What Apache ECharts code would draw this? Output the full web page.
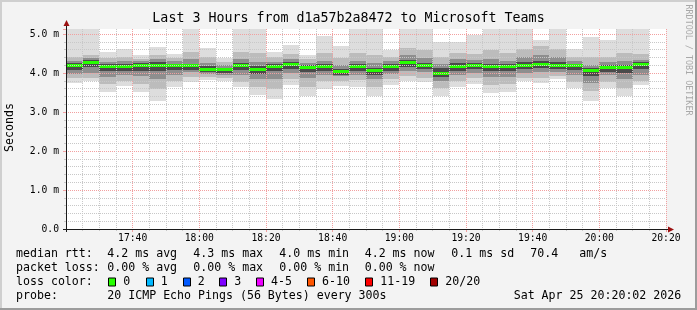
<!DOCTYPE html>
<html><head><meta charset="utf-8">
<script src="https://cdn.jsdelivr.net/npm/echarts@6/dist/echarts.min.js"></script>
<style>html,body{margin:0;padding:0;background:#f3f3f3}#c{width:697px;height:310px}</style>
</head><body><div id="c"></div>
<script>
// ---------- data ----------
const chartTitle = 'Last 3 Hours from d1a57b2a8472 to Microsoft Teams';
const slotStart = ['17:20','17:25','17:30','17:35','17:40','17:45','17:50','17:55',
  '18:00','18:05','18:10','18:15','18:20','18:25','18:30','18:35','18:40','18:45','18:50','18:55',
  '19:00','19:05','19:10','19:15','19:20','19:25','19:30','19:35','19:40','19:45','19:50','19:55',
  '20:00','20:05','20:10'];
const slotMinutes = 5;
const axisStart = '17:20', axisEnd = '20:20';
// RTT values in ms, per 5-minute slot
const maxRtt = [5.2,5.2,4.55,4.62,4.46,4.67,4.49,5.2,4.65,4.38,5.2,5.2,4.55,4.73,4.46,4.95,4.68,5.2,5.2,4.59,5.2,5.2,4.80,4.80,4.97,5.2,5.2,5.2,4.84,5.2,4.61,4.92,4.85,5.2,5.2];
const p90 = [4.40,4.46,4.38,4.42,4.37,4.45,4.38,4.55,4.40,4.28,4.55,4.50,4.40,4.48,4.35,4.50,4.38,4.50,4.45,4.42,4.65,4.58,4.40,4.52,4.48,4.58,4.50,4.62,4.70,4.62,4.40,4.40,4.42,4.52,4.48];
const p75 = [4.32,4.38,4.29,4.30,4.30,4.35,4.30,4.35,4.26,4.20,4.35,4.28,4.28,4.35,4.26,4.32,4.20,4.32,4.25,4.32,4.45,4.38,4.22,4.36,4.34,4.35,4.30,4.40,4.45,4.40,4.30,4.20,4.28,4.30,4.34];
const p60 = [4.26,4.33,4.23,4.24,4.25,4.27,4.24,4.24,4.18,4.14,4.26,4.17,4.22,4.28,4.20,4.24,4.10,4.24,4.14,4.24,4.34,4.26,4.12,4.26,4.26,4.24,4.22,4.28,4.32,4.27,4.24,4.12,4.20,4.20,4.28];
const medianRtt = [4.19,4.27,4.16,4.16,4.18,4.18,4.18,4.18,4.10,4.08,4.18,4.10,4.16,4.22,4.14,4.16,4.04,4.16,4.06,4.16,4.27,4.19,3.99,4.16,4.18,4.16,4.16,4.19,4.22,4.19,4.19,4.06,4.14,4.14,4.21];
const p40 = [4.08,4.16,4.04,4.06,4.06,4.06,4.08,4.08,4.02,4.00,4.08,3.98,4.04,4.11,4.02,4.06,3.95,4.06,3.96,4.06,4.16,4.10,3.90,4.06,4.09,4.06,4.04,4.09,4.13,4.09,4.08,3.92,4.03,4.01,4.10];
const p25 = [3.97,4.00,3.90,3.95,3.92,3.85,3.95,4.02,3.98,3.96,3.95,3.85,3.85,4.00,3.88,3.96,3.92,3.96,3.85,3.98,4.05,4.02,3.80,3.96,4.00,3.90,3.90,4.00,4.02,4.03,3.95,3.75,3.94,3.85,3.95];
const p10 = [3.87,3.88,3.72,3.80,3.72,3.60,3.80,3.90,3.90,3.88,3.78,3.65,3.60,3.85,3.65,3.80,3.80,3.82,3.65,3.85,3.92,3.88,3.62,3.80,3.88,3.70,3.72,3.88,3.88,3.92,3.78,3.55,3.78,3.62,3.80];
const minRtt = [3.74,3.79,3.50,3.66,3.50,3.27,3.63,3.78,3.82,3.80,3.63,3.44,3.34,3.70,3.40,3.60,3.66,3.64,3.40,3.68,3.80,3.76,3.41,3.63,3.73,3.48,3.52,3.79,3.75,3.84,3.61,3.29,3.61,3.42,3.68];
const yMin = 0, yMax = 5.128;
const xTickLabels = ['17:40','18:00','18:20','18:40','19:00','19:20','19:40','20:00','20:20'];
const yTickLabels = ['0.0','1.0 m','2.0 m','3.0 m','4.0 m','5.0 m'];
const medianStats = ['4.2 ms avg','4.3 ms max','4.0 ms min','4.2 ms now','0.1 ms sd','70.4','am/s'];
const lossStats = ['0.00 % avg','0.00 % max','0.00 % min','0.00 % now'];
const lossLabels = ['0','1','2','3','4-5','6-10','11-19','20/20'];
const lossColors = ['#26ff00','#00b8ff','#0059ff','#7e00ff','#ee00ff','#ff5500','#ff0000','#a10000'];
const probeText = '20 ICMP Echo Pings (56 Bytes) every 300s';
const dateText = 'Sat Apr 25 20:20:02 2026';

// ---------- style / layout ----------
const mono = '"DejaVu Sans Mono", monospace';
const gridGrey = '#c8c8c8', gridRed = '#f2a0a0';
const smokeColors = ['#dddddd', '#bcbcbc', '#8e8e8e', '#4a4a4a'];
const medianColor = '#26ff00';
const statX = [107.3, 193.3, 279.3, 364.7, 451.3, 530.3, 579.3];
const rowY = [254.3, 268.3, 282, 296];
const boxX = [108.3, 145.7, 182.7, 219.3, 256, 307, 365.3, 430.3];

const toMin = s => { const p = s.split(':').map(Number); return p[0] * 60 + p[1]; };
const xMin = toMin(axisStart), xMax = toMin(axisEnd);
const data = slotStart.map((s, i) => {
  const t = toMin(s);
  return [t, t + slotMinutes, minRtt[i], p10[i], p25[i], p40[i], medianRtt[i], p60[i], p75[i], p90[i], maxRtt[i]];
});

const chart = echarts.init(document.getElementById('c'), null, {width: 697, height: 310});

function renderItem(params, api) {
  const cs = params.coordSys;
  const t0 = api.value(0), t1 = api.value(1);
  const xl = Math.round(api.coord([t0, 0])[0]);
  const xr = Math.round(api.coord([t1, 0])[0]);
  const layers = [[2, 10], [3, 9], [4, 8], [5, 7]];
  const children = [];
  layers.forEach((l, k) => {
    let yTop = Math.round(api.coord([t0, api.value(l[1])])[1]);
    const yBot = Math.round(api.coord([t0, api.value(l[0])])[1]);
    yTop = Math.max(yTop, cs.y);
    children.push({type: 'rect', shape: {x: xl, y: yTop, width: xr - xl, height: yBot - yTop},
      style: {fill: smokeColors[k]}});
  });
  const ym = api.coord([t0, api.value(6)])[1];
  children.push({type: 'rect', shape: {x: xl, y: Math.round(ym - 1.5), width: xr - xl, height: 3},
    style: {fill: medianColor}});
  return {type: 'group', children};
}

const xLabelFmt = v => {
  const idx = xTickLabels.findIndex(l => toMin(l) === Math.round(v));
  return idx >= 0 ? xTickLabels[idx] : '';
};
const yLabelFmt = v => {
  const r = Math.round(v);
  return Math.abs(v - r) < 1e-6 && yTickLabels[r] !== undefined ? yTickLabels[r] : '';
};

chart.setOption({
  backgroundColor: '#f3f3f3',
  animation: false,
  title: {text: chartTitle, left: 'center', top: 12, padding: 0,
    textStyle: {fontFamily: mono, fontSize: 13.3, fontWeight: 'normal', color: '#000'}},
  grid: {left: 66, top: 29, width: 600, height: 200, show: false},
  xAxis: [
    {type: 'value', min: xMin, max: xMax, interval: 5, position: 'bottom',
      axisLine: {show: false}, axisLabel: {show: false},
      axisTick: {show: true, length: 2, lineStyle: {color: gridGrey}},
      splitLine: {show: true, lineStyle: {color: gridGrey, type: [1, 1], width: 1}}},
    {type: 'value', min: xMin, max: xMax, interval: 20, position: 'bottom',
      axisLine: {show: false},
      axisTick: {show: true, length: 3, lineStyle: {color: gridRed}},
      axisLabel: {formatter: xLabelFmt, margin: 4, fontFamily: mono, fontSize: 9.7, color: '#000',
        showMinLabel: true, showMaxLabel: true},
      splitLine: {show: true, lineStyle: {color: gridRed, type: [1, 1], width: 1}}}
  ],
  yAxis: [
    {type: 'value', min: yMin, max: yMax, interval: 0.2, position: 'left',
      axisLine: {show: false}, axisLabel: {show: false},
      axisTick: {show: true, length: 2, lineStyle: {color: gridGrey}},
      splitLine: {show: true, showMaxLine: false, lineStyle: {color: gridGrey, type: [1, 1], width: 1}}},
    {type: 'value', min: yMin, max: yMax, interval: 1, position: 'left',
      axisLine: {show: false},
      axisTick: {show: true, length: 3, lineStyle: {color: gridRed}},
      axisLabel: {formatter: yLabelFmt, margin: 7, fontFamily: mono, fontSize: 9.7, color: '#000'},
      splitLine: {show: true, showMaxLine: false, lineStyle: {color: gridRed, type: [1, 1], width: 1}}}
  ],
  series: [{type: 'custom', xAxisIndex: 0, yAxisIndex: 0, z: -1, clip: true,
    encode: {x: [0, 1], y: [2, 10]}, data, renderItem}]
});

// ---------- decorations: canvas, axes with arrows, legend texts ----------
const o = chart.convertToPixel({xAxisIndex: 0, yAxisIndex: 0}, [xMin, yMin]);
const tr = chart.convertToPixel({xAxisIndex: 0, yAxisIndex: 0}, [xMax, yMax]);
const axisColor = '#1a1a1a', arrowColor = '#9b1010';
const txt = (text, x, y, extra) => Object.assign({type: 'text', x, y,
  style: {text, font: '11.6px ' + mono, fill: '#000', align: 'left', verticalAlign: 'middle'}}, extra || {});
const g = [];
g.push({type: 'rect', z: -10, shape: {x: o[0], y: tr[1], width: tr[0] - o[0], height: o[1] - tr[1]}, style: {fill: '#ffffff'}});
// frame
g.push({type: 'rect', shape: {x: 0, y: 0, width: 697, height: 2}, style: {fill: '#cfcfcf'}});
g.push({type: 'rect', shape: {x: 0, y: 0, width: 2, height: 310}, style: {fill: '#cfcfcf'}});
g.push({type: 'rect', shape: {x: 0, y: 308, width: 697, height: 2}, style: {fill: '#9c9c9c'}});
g.push({type: 'rect', shape: {x: 695, y: 0, width: 2, height: 310}, style: {fill: '#9c9c9c'}});
// axes
g.push({type: 'line', z: 5, shape: {x1: o[0] - 3, y1: o[1] + 0.5, x2: tr[0] + 3, y2: o[1] + 0.5}, style: {stroke: axisColor, lineWidth: 1}});
g.push({type: 'line', z: 5, shape: {x1: o[0] + 0.5, y1: o[1] + 3, x2: o[0] + 0.5, y2: tr[1] - 3}, style: {stroke: axisColor, lineWidth: 1}});
g.push({type: 'polygon', z: 6, shape: {points: [[tr[0] + 2, o[1] - 2.5], [tr[0] + 8, o[1] + 0.5], [tr[0] + 2, o[1] + 3.5]]}, style: {fill: arrowColor}});
g.push({type: 'polygon', z: 6, shape: {points: [[o[0] - 2.5, tr[1] - 3], [o[0] + 0.5, tr[1] - 9], [o[0] + 3.5, tr[1] - 3]]}, style: {fill: arrowColor}});
// axis title and watermark
g.push({type: 'text', x: 10, y: (o[1] + tr[1]) / 2 - 1.5, rotation: Math.PI / 2,
  style: {text: 'Seconds', font: '11.6px ' + mono, fill: '#000', align: 'center', verticalAlign: 'middle'}});
g.push({type: 'text', x: 688.5, y: 60, rotation: -Math.PI / 2,
  style: {text: 'RRDTOOL / TOBI OETIKER', font: '8.4px ' + mono, fill: '#a8a8a8', align: 'center', verticalAlign: 'middle'}});
// legend rows
g.push(txt('median rtt:', 16, rowY[0]));
medianStats.forEach((s, i) => g.push(txt(s, statX[i], rowY[0])));
g.push(txt('packet loss:', 16, rowY[1]));
lossStats.forEach((s, i) => g.push(txt(s, statX[i], rowY[1])));
g.push(txt('loss color:', 16, rowY[2]));
lossLabels.forEach((s, i) => {
  const bx = Math.round(boxX[i]) + 0.5;
  g.push({type: 'rect', shape: {x: bx, y: rowY[2] - 4, width: 7, height: 8}, style: {fill: lossColors[i], stroke: '#000', lineWidth: 1}});
  g.push(txt(s, boxX[i] + 15, rowY[2]));
});
g.push(txt('probe:', 16, rowY[3]));
g.push(txt(probeText, 107.3, rowY[3]));
g.push(txt(dateText, 513.7, rowY[3]));
chart.setOption({graphic: g});
</script>
</body></html>
